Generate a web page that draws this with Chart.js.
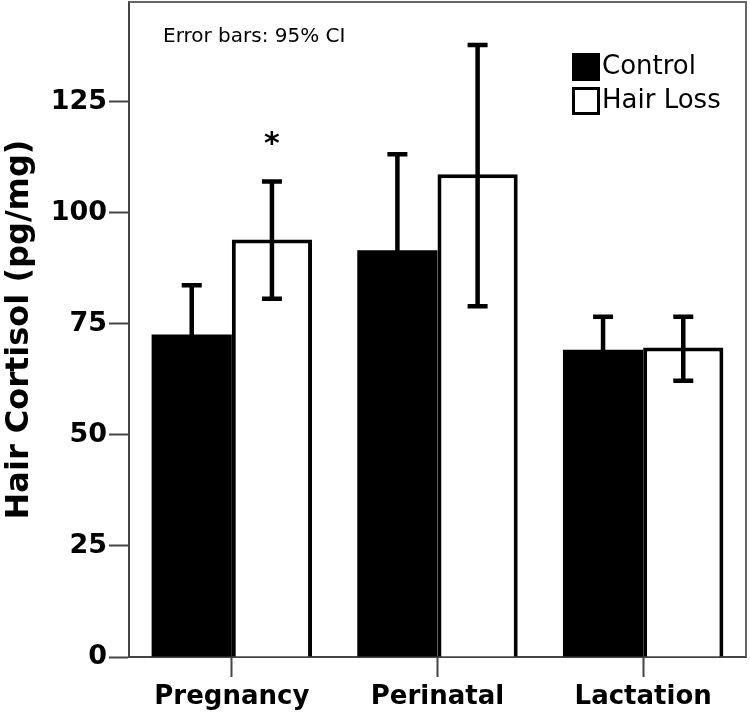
<!DOCTYPE html>
<html>
<head>
<meta charset="utf-8">
<script src="https://cdn.jsdelivr.net/npm/chart.js@4"></script>
<style>
  body { margin: 0; background: #fff; }
  #wrap { width: 750px; height: 715px; }
</style>
</head>
<body>
<div id="wrap"><canvas id="cortisol" width="750" height="715"></canvas></div>
<script>
// data
const phases = ["Pregnancy", "Perinatal", "Lactation"];
const controlMean = [72.6, 91.6, 69.2];
const controlLow = [61.5, 70.0, 61.8];
const controlHigh = [83.7, 113.2, 76.6];
const hairLossMean = [94.0, 108.7, 69.7];
const hairLossLow = [80.7, 79.0, 62.2];
const hairLossHigh = [107.1, 137.8, 76.6];
const hairLossStars = ["*", "", ""];
const yTicks = [0, 25, 50, 75, 100, 125];

const FONT = "DejaVu Sans";

// error bars (95% CI)
const errorBars = {
    id: "errorBars",
    afterDatasetsDraw(chart) {
        const ctx = chart.ctx;
        const y = chart.scales.y;
        chart.data.datasets.forEach((ds, i) => {
            const meta = chart.getDatasetMeta(i);
            meta.data.forEach((bar, j) => {
                const hi = y.getPixelForValue(ds.ciHigh[j]);
                const lo = y.getPixelForValue(ds.ciLow[j]);
                ctx.save();
                ctx.strokeStyle = "#000";
                ctx.lineWidth = 4.5;
                ctx.beginPath();
                ctx.moveTo(bar.x, hi);
                ctx.lineTo(bar.x, lo);
                ctx.moveTo(bar.x - 10, hi);
                ctx.lineTo(bar.x + 10, hi);
                ctx.moveTo(bar.x - 10, lo);
                ctx.lineTo(bar.x + 10, lo);
                ctx.stroke();
                if (ds.stars && ds.stars[j]) {
                    ctx.fillStyle = "#000";
                    ctx.font = "bold 30px " + FONT;
                    ctx.textAlign = "center";
                    ctx.textBaseline = "alphabetic";
                    ctx.fillText(ds.stars[j], bar.x, hi - 28);
                }
                ctx.restore();
            });
        });
    }
};

// frame, legend and note
const extras = {
    id: "extras",
    afterDraw(chart) {
        const ctx = chart.ctx;
        const a = chart.chartArea;
        ctx.save();
        ctx.strokeStyle = "#666";
        ctx.lineWidth = 2;
        ctx.beginPath();
        ctx.moveTo(a.left, a.top);
        ctx.lineTo(a.right, a.top);
        ctx.lineTo(a.right, a.bottom);
        ctx.stroke();

        ctx.fillStyle = "#000";
        ctx.font = "20px " + FONT;
        ctx.textBaseline = "middle";
        ctx.textAlign = "left";
        ctx.fillText("Error bars: 95% CI", 163, 37);

        // legend
        chart.data.datasets.forEach((ds, i) => {
            const top = 53 + i * 34;
            ctx.fillStyle = "#000";
            ctx.fillRect(572, top, 28, 28);
            if (ds.backgroundColor !== "#000") {
                ctx.fillStyle = ds.backgroundColor;
                ctx.fillRect(575, top + 3, 22, 22);
            }
            ctx.fillStyle = "#000";
            ctx.font = "26px " + FONT;
            ctx.fillText(ds.label, 602, top + 14);
        });
        ctx.restore();
    }
};

const context = document.getElementById("cortisol").getContext("2d");
const cortisolChart = new Chart(context, {
    type: "bar",
    data: {
        labels: phases,
        datasets: [
            {
                label: "Control",
                data: controlMean,
                ciLow: controlLow,
                ciHigh: controlHigh,
                backgroundColor: "#000",
                borderWidth: 0
            },
            {
                label: "Hair Loss",
                data: hairLossMean,
                ciLow: hairLossLow,
                ciHigh: hairLossHigh,
                stars: hairLossStars,
                backgroundColor: "#fff",
                borderColor: "#000",
                borderWidth: 4
            }
        ]
    },
    options: {
        responsive: false,
        animation: false,
        layout: { padding: { top: 2, right: 4, left: 0, bottom: 0 } },
        datasets: {
            bar: { barPercentage: 1.0, categoryPercentage: 0.78 }
        },
        plugins: {
            legend: { display: false },
            tooltip: { enabled: false }
        },
        scales: {
            x: {
                afterFit: (scale) => { scale.height = 58; },
                grid: {
                    offset: false,
                    drawOnChartArea: false,
                    drawTicks: true,
                    tickLength: 20,
                    tickColor: "#444",
                    tickWidth: 2
                },
                border: { display: true, color: "#444", width: 2 },
                ticks: {
                    color: "#000",
                    padding: 5,
                    font: { family: FONT, size: 26, weight: "bold" }
                }
            },
            y: {
                min: 0,
                max: 147.5,
                afterFit: (scale) => {
                    scale.width = 129;
                    scale.paddingTop = 0;
                    scale.paddingBottom = 0;
                },
                afterBuildTicks: (scale) => {
                    scale.ticks = yTicks.map((v) => ({ value: v }));
                },
                grid: {
                    drawOnChartArea: false,
                    drawTicks: true,
                    tickLength: 20,
                    tickColor: "#444",
                    tickWidth: 2
                },
                border: { display: true, color: "#444", width: 2 },
                ticks: {
                    color: "#000",
                    padding: 2,
                    font: { family: FONT, size: 27, weight: "bold" }
                },
                title: {
                    display: true,
                    text: "Hair Cortisol (pg/mg)",
                    color: "#000",
                    padding: 0,
                    font: { family: FONT, size: 32, weight: "bold" }
                }
            }
        }
    },
    plugins: [errorBars, extras]
});
</script>
</body>
</html>
